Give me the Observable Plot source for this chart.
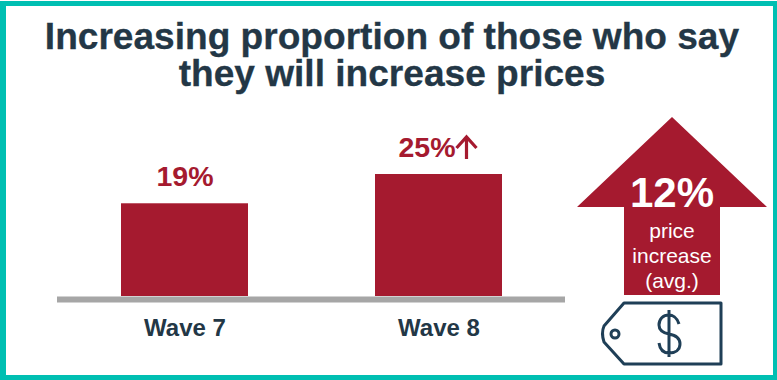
<!DOCTYPE html>
<html>
<head>
<meta charset="utf-8">
<script src="https://cdn.jsdelivr.net/npm/d3@7"></script>
<script src="https://cdn.jsdelivr.net/npm/@observablehq/plot@0.6"></script>
<style>
  html, body { margin: 0; padding: 0; background: #fff; }
  #frame {
    position: relative; box-sizing: border-box; width: 777px; height: 380px;
    overflow: hidden; background: #fff; font-family: "Liberation Sans", Arial, sans-serif;
  }
  #border {
    position: absolute; left: 0; top: 1px; right: 4px; bottom: 0;
    border: solid #00bfb2; border-width: 5px 0 5px 6px; box-sizing: border-box;
    pointer-events: none;
  }
  #borderRight { position: absolute; left: 773px; top: 1px; width: 4px; height: 379px; background: #00bfb2; }
  h1 {
    position: absolute; left: 0; top: 18px; width: 784px; margin: 0; text-align: center;
    font-size: 37.1px; line-height: 37px; font-weight: 700; color: #233746;
    -webkit-text-stroke: 0.3px #233746;
  }
  #chart { position: absolute; left: 0; top: 110px; }
  svg { display: block; }
</style>
</head>
<body>
<div id="frame">
  <h1>Increasing proportion of those who say<br>they will increase prices</h1>
  <div id="chart"></div>
  <div id="border"></div>
  <div id="borderRight"></div>
</div>
<script>
const waves = ["Wave 7", "Wave 8"];
const shares = [19, 25];
const rising = [false, true];
const avgIncrease = "12%";
const avgLines = ["price", "increase", "(avg.)"];

const crimson = "#a51a2f";
const navy = "#233746";
const tagBlue = "#1f3f57";
const rows = waves.map((wave, i) => ({wave, share: shares[i], rising: rising[i]}));

// Up arrow that follows a rising value's label
function risingMark(index, {x, y}) {
  const g = d3.create("svg:g").attr("fill", "none").attr("stroke", crimson)
    .attr("stroke-width", 3.2);
  for (const r of rows.filter((d) => d.rising)) {
    const cx = x(r.wave) + x.bandwidth() / 2 + 28;
    const top = y(r.share) - 38;
    g.append("path").attr("d", `M${cx},${top + 1}V${top + 23}M${cx - 10},${top + 12}L${cx},${top + 1}L${cx + 10},${top + 12}`);
  }
  return g.node();
}

// Average-increase arrow and the price tag beneath it
function priceGraphic() {
  const g = d3.create("svg:g");
  g.append("path").attr("fill", crimson)
    .attr("d", "M672,7L767,97H720V185H624V97H577Z");
  const label = g.append("text").attr("text-anchor", "middle").attr("fill", "#fff");
  label.append("tspan").attr("x", 672).attr("y", 97).attr("font-size", 42).attr("font-weight", 700).text(avgIncrease);
  avgLines.forEach((line, i) => {
    label.append("tspan").attr("x", 672).attr("y", 128 + i * 25).attr("font-size", 21).text(line);
  });
  const tag = g.append("g").attr("fill", "none").attr("stroke", tagBlue)
    .attr("stroke-width", 3).attr("stroke-linejoin", "round");
  tag.append("path").attr("d", "M624,193H721V254H624L604,232Q601,223 604,216Z");
  tag.append("circle").attr("cx", 615).attr("cy", 224).attr("r", 4);
  tag.append("path").attr("d", "M679,214C677,207 672,205 669,205C663,205 659,209 659,215C659,221 664,223 669,224C675,225 680,228 680,234C680,240 675,243 669,243C664,243 660,240 659,233M669,200V247");
  return g.node();
}

const chart = Plot.plot({
  width: 777,
  height: 260,
  marginLeft: 57,
  marginRight: 212,
  marginTop: 64,
  marginBottom: 74,
  style: {fontFamily: "'Liberation Sans', Arial, sans-serif", background: "transparent", overflow: "visible"},
  x: {domain: waves, paddingInner: 0.5, paddingOuter: 0.25, label: null},
  y: {domain: [0, 25], axis: null, label: null},
  marks: [
    Plot.ruleY([0], {stroke: "#a6a6a6", strokeWidth: 6, dy: 3}),
    Plot.barY(rows, {x: "wave", y: "share", fill: crimson}),
    Plot.text(rows.filter((d) => !d.rising), {x: "wave", y: "share", text: (d) => d.share + "%", dy: -27, dx: 0, fill: crimson, fontSize: 28.5, fontWeight: 700}),
    Plot.text(rows.filter((d) => d.rising), {x: "wave", y: "share", text: (d) => d.share + "%", dy: -27, dx: -12, fill: crimson, fontSize: 28.5, fontWeight: 700}),
    Plot.axisX({tickSize: 0, tickPadding: 0, dy: 22, fontSize: 24, fontWeight: 700, fill: navy, label: null}),
    risingMark,
    priceGraphic
  ]
});
document.getElementById("chart").appendChild(chart);
</script>
</body>
</html>
